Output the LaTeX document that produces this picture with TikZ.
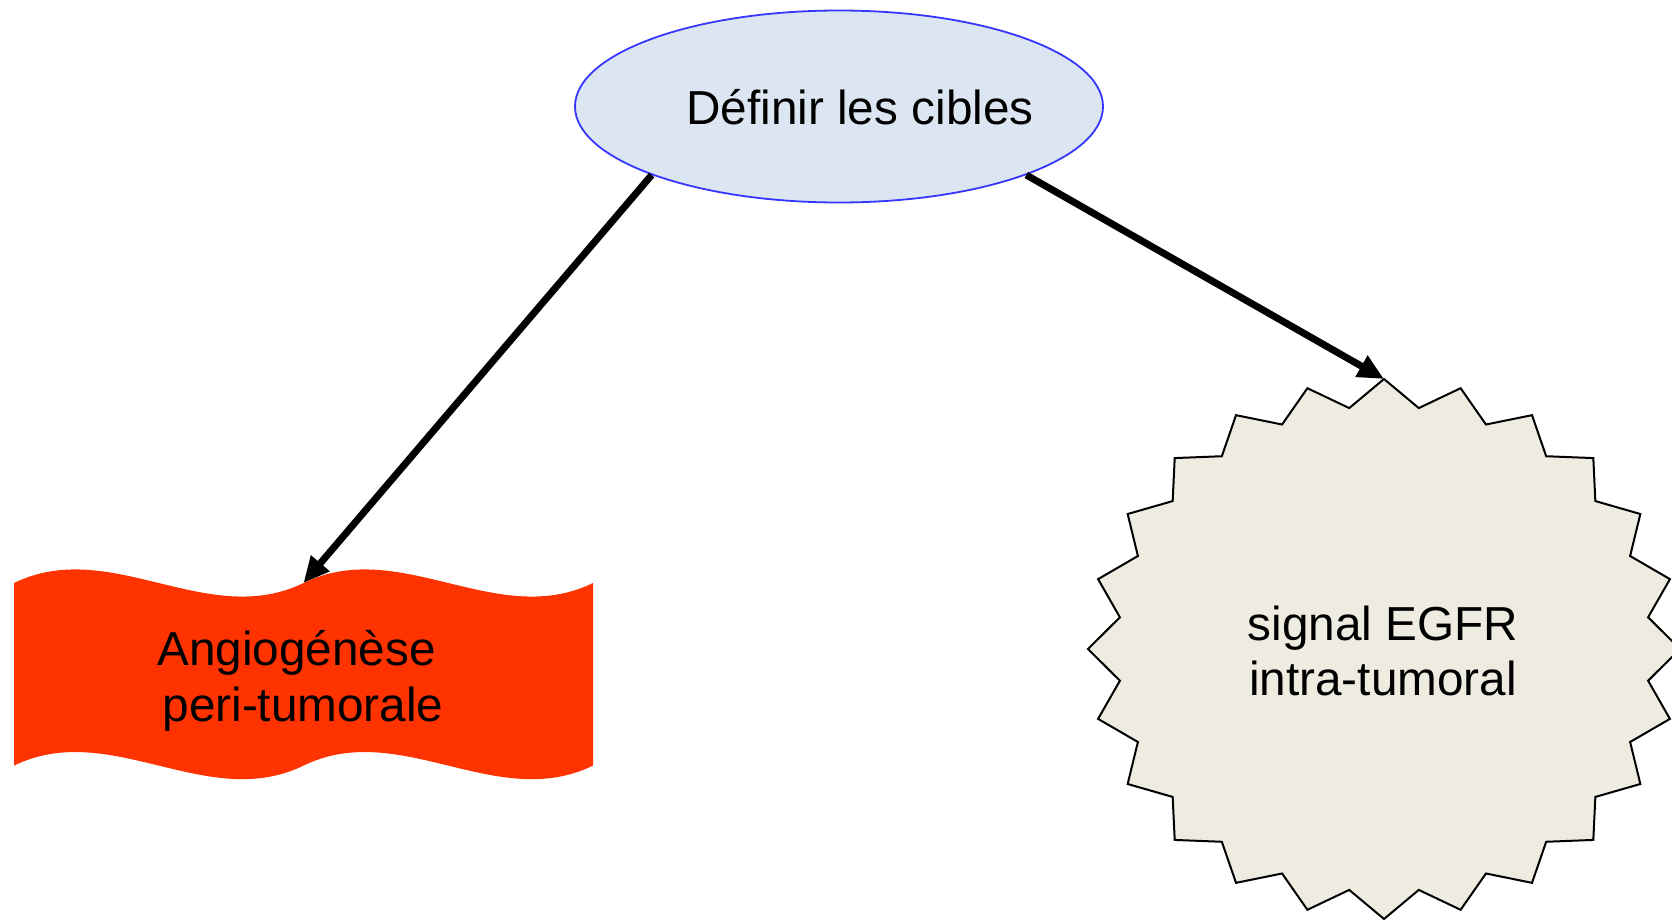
\documentclass[tikz,border=0pt]{standalone}
\usepackage{fontspec}
\setmainfont{Liberation Sans}
\usetikzlibrary{shapes.geometric,arrows.meta}
\definecolor{ellfill}{HTML}{DCE6F2}
\definecolor{ellline}{HTML}{3636FF}
\definecolor{starfill}{HTML}{EEECE1}
\definecolor{wavered}{HTML}{FF3300}
\begin{document}
\begin{tikzpicture}[x=1pt,y=-1pt,
  txt/.style={font=\fontsize{47.7}{55.5}\selectfont, align=center, inner sep=0pt},
  ellbox/.style={ellipse, draw=ellline, fill=ellfill, line width=1.8pt, minimum width=528pt, minimum height=192pt, inner sep=0pt},
  starbox/.style={draw=black, fill=starfill, line width=2pt, line join=miter},
  arr/.style={line width=7pt, -{Triangle[length=26pt,width=23pt]}, shorten >=0pt}
]
\useasboundingbox (0,0) rectangle (1672,920);
% top ellipse
\node[ellbox] (e) at (839,106.5) {};
\node[txt] (etxt) at (860,107) {Définir les cibles};
% wave banner
\fill[wavered] (14,583) .. controls (110.5,536) and (207,630) .. (303.5,583)
  .. controls (400,536) and (496.5,630) .. (593,583) -- (593,765.6)
  .. controls (496.5,812.6) and (400,718.6) .. (303.5,765.6)
  .. controls (207,812.6) and (110.5,718.6) .. (14,765.6) -- cycle;
\coordinate (wavetop) at (303.5,583);
\node[txt] (wtxt) at (303,681) {Angiogénèse\kern13pt\\peri-tumorale};
% starburst
\draw[starbox] (1384,379) \foreach \k in {1,...,47} {
  -- ({1384+(1-0.1*mod(\k,2))*296*cos(90+\k*7.5)}, {649-(1-0.1*mod(\k,2))*270*sin(90+\k*7.5)}) } -- cycle;
\coordinate (startop) at (1384,379);
\node[txt] (stxt) at (1383,651) {signal EGFR\\intra-tumoral};
% connectors
\draw[arr] (e.south west) -- (wavetop);
\draw[arr] (e.south east) -- (startop);
\end{tikzpicture}
\end{document}
